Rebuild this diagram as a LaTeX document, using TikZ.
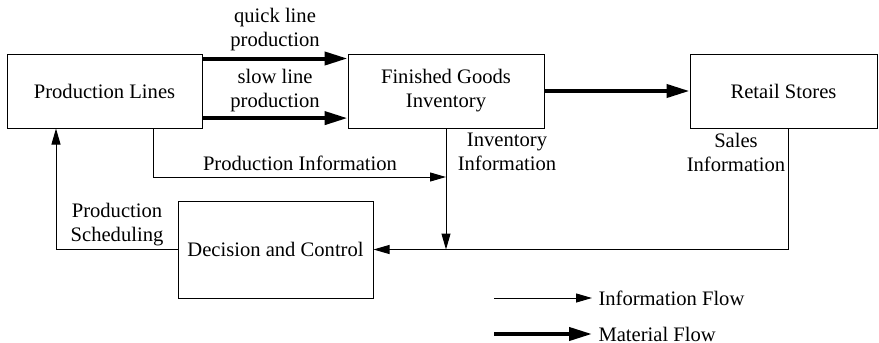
\documentclass[tikz,border=0pt]{standalone}
\usepackage{fontspec}
\setmainfont{Liberation Serif}
\usetikzlibrary{arrows.meta}

\begin{document}
\begin{tikzpicture}[x=0.5pt,y=-0.5pt,line width=0.5pt,font=\fontsize{10.3}{12}\selectfont,
        box/.style={draw,inner sep=0pt,align=center,minimum width=97.5pt,minimum height=37pt},
        info/.style={-{Triangle[length=8pt,width=4.5pt]}},
        material/.style={line width=2pt,-{Triangle[length=11.5pt,width=6.5pt]}}]
        \useasboundingbox (0,0) rectangle (879,343);
        % blocks
        \node[box] (lines) at (104.5,91) {Production Lines};
        \node[box,minimum width=98pt] (goods) at (446,91) {Finished Goods\\Inventory};
        \node[box,minimum width=93.5pt] (stores) at (783.5,91) {Retail Stores};
        \node[box,minimum height=48.5pt] (control) at (275.5,249.5) {Decision and Control};
        % material flow
        \draw[material] ([yshift=-2.5pt]lines.north east) -- ([yshift=-2.5pt]goods.north west);
        \node[align=center] (quick) at (275,30) {quick line\\production};
        \draw[material] ([yshift=5.2pt]lines.south east) -- ([yshift=5.2pt]goods.south west);
        \node[align=center] (slow) at (275,91) {slow line\\production};
        \draw[material] (goods.east) -- (stores.west);
        % information flow
        \coordinate (join) at (446,177);
        \draw[info] ([xshift=24.25pt]lines.south) |- (join);
        \node (prodinfo) at (300,163) {Production Information};
        \draw[info] (goods.south) -- (goods.south |- control.east);
        \node[align=center] (invinfo) at (507,152) {Inventory\\Information};
        \draw[info] ([xshift=2.25pt]stores.south) |- (control.east);
        \node[align=center] (salesinfo) at (736,152) {Sales\\Information};
        \draw[info] (control.west) -| ([xshift=-24.25pt]lines.south);
        \node[align=center] (sched) at (117,225) {Production\\Scheduling};
        % legend
        \coordinate (infostart) at (494,298);
        \coordinate (matstart) at (494,334);
        \node[anchor=west,inner sep=3pt] (infolbl) at (592,298) {Information Flow};
        \node[anchor=west,inner sep=3pt] (matlbl) at (592,334) {Material Flow};
        \draw[info] (infostart) -- (infolbl.west);
        \draw[material] (matstart) -- (matlbl.west);
\end{tikzpicture}
\end{document}
